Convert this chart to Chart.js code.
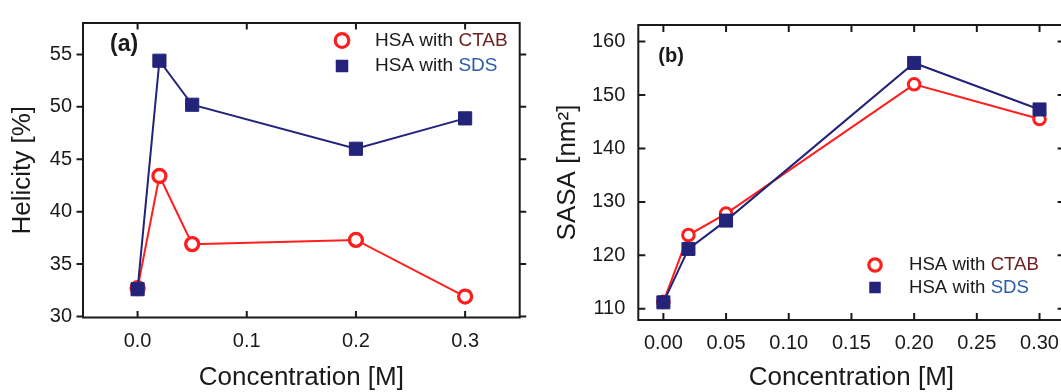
<!DOCTYPE html>
<html>
<head>
<meta charset="utf-8">
<script src="https://cdn.jsdelivr.net/npm/chart.js@4.4.1/dist/chart.umd.min.js"></script>
<style>
  html, body { margin: 0; padding: 0; background: #fff; overflow: hidden; }
  #wrap { position: relative; width: 1061px; height: 392px; overflow: hidden; }
  .panel { position: absolute; top: 0; }
  #panel-a { left: 0; }
  #panel-b { left: 530px; }
</style>
</head>
<body>
<div id="wrap">
  <div class="panel" id="panel-a"><canvas id="grafica-helicidad" width="530" height="392"></canvas></div>
  <div class="panel" id="panel-b"><canvas id="grafica-sasa" width="545" height="392"></canvas></div>
</div>
<script>
// datos
const concentraciones = [0, 0.02, 0.05, 0.2, 0.3];
const surfactantes = ['CTAB', 'SDS'];
const helicidadCTAB = [32.7, 43.4, 36.9, 37.3, 31.9];
const helicidadSDS = [32.6, 54.4, 50.2, 46.0, 48.9];
const sasaCTAB = [111.3, 123.8, 127.8, 152.0, 145.5];
const sasaSDS = [111.2, 121.2, 126.5, 156.0, 147.3];

// marcas de los ejes
const ticksXA = [0, 0.1, 0.2, 0.3];
const ticksYA = [30, 35, 40, 45, 50, 55];
const ticksXB = [0, 0.05, 0.1, 0.15, 0.2, 0.25, 0.3];
const ticksYB = [110, 120, 130, 140, 150, 160];

const ROJO = '#ff1e1e';
const AZUL = '#23237a';
const TEXTO = '#1a1a1a';
const colorPalabra = { CTAB: '#6e1e1e', SDS: '#2b5ca8' };

Chart.defaults.font.family = '"Liberation Sans", Arial, sans-serif';
Chart.defaults.color = TEXTO;

function puntos(valores) {
  return concentraciones.map((c, i) => ({ x: c, y: valores[i] }));
}

function datasets(ctab, sds, m) {
  return [
    {
      label: 'HSA with ' + surfactantes[0],
      data: puntos(ctab),
      borderColor: ROJO,
      borderWidth: 2,
      pointStyle: 'circle',
      pointRadius: m.circulo,
      pointBorderWidth: m.anillo,
      pointBackgroundColor: '#fff',
      pointBorderColor: ROJO,
      order: 1
    },
    {
      label: 'HSA with ' + surfactantes[1],
      data: puntos(sds),
      borderColor: AZUL,
      borderWidth: 2,
      pointStyle: 'rect',
      pointRadius: m.cuadro,
      pointBorderWidth: 1,
      pointBackgroundColor: AZUL,
      pointBorderColor: AZUL,
      order: 0
    }
  ];
}

// marco con las marcas de los ejes en los cuatro lados
const marco = {
  id: 'marco',
  afterDatasetsDraw(chart, args, opts) {
    const { ctx, chartArea: a, scales } = chart;
    const L = opts.len;
    const dy = opts.yFuera ? -1 : 1;
    ctx.save();
    ctx.strokeStyle = TEXTO;
    ctx.lineWidth = 2;
    ctx.beginPath();
    scales.x.ticks.forEach(t => {
      const px = scales.x.getPixelForValue(t.value);
      ctx.moveTo(px, a.bottom); ctx.lineTo(px, a.bottom - L);
      ctx.moveTo(px, a.top); ctx.lineTo(px, a.top + L);
    });
    scales.y.ticks.forEach(t => {
      const py = scales.y.getPixelForValue(t.value);
      ctx.moveTo(a.left, py); ctx.lineTo(a.left + dy * L, py);
      ctx.moveTo(a.right, py); ctx.lineTo(a.right - dy * L, py);
    });
    ctx.stroke();
    ctx.strokeRect(a.left, a.top, a.right - a.left, a.bottom - a.top);
    ctx.restore();
  }
};

// leyenda propia con la palabra del surfactante en color y la etiqueta del panel
const leyenda = {
  id: 'leyenda',
  afterDraw(chart, args, opts) {
    const { ctx } = chart;
    ctx.save();
    ctx.textBaseline = 'middle';
    ctx.textAlign = 'left';
    chart.data.datasets.forEach((ds, i) => {
      const y = opts.y + i * opts.gap;
      if (ds.pointStyle === 'circle') {
        ctx.beginPath();
        ctx.arc(opts.x, y, opts.r, 0, Math.PI * 2);
        ctx.fillStyle = '#fff';
        ctx.fill();
        ctx.lineWidth = 3.2;
        ctx.strokeStyle = ds.pointBorderColor;
        ctx.stroke();
      } else {
        const h = opts.lado / 2;
        ctx.fillStyle = ds.pointBackgroundColor;
        ctx.fillRect(opts.x - h, y - h, opts.lado, opts.lado);
      }
      const palabra = surfactantes[i];
      const prefijo = ds.label.slice(0, ds.label.length - palabra.length);
      ctx.font = opts.size + 'px "Liberation Sans", Arial, sans-serif';
      ctx.fillStyle = TEXTO;
      ctx.fillText(prefijo, opts.textX, y);
      const w = ctx.measureText(prefijo).width;
      ctx.fillStyle = colorPalabra[palabra];
      ctx.fillText(palabra, opts.textX + w, y);
    });
    ctx.font = 'bold ' + opts.tagSize + 'px "Liberation Sans", Arial, sans-serif';
    ctx.fillStyle = TEXTO;
    ctx.fillText(opts.tag, opts.tagX, opts.tagY);
    ctx.restore();
  }
};

function ejes(cfg) {
  return {
    x: {
      type: 'linear',
      min: cfg.xMin,
      max: cfg.xMax,
      afterBuildTicks: s => { s.ticks = cfg.xTicks.map(v => ({ value: v })); },
      afterFit: s => { s.height = cfg.xAlto; },
      grid: { display: false, drawTicks: false },
      border: { display: false },
      ticks: {
        autoSkip: false,
        maxRotation: 0,
        padding: cfg.xPad,
        font: { size: 20 },
        callback: v => v.toFixed(cfg.xDec)
      },
      title: {
        display: true,
        text: 'Concentration [M]',
        font: { size: 26, lineHeight: 1 },
        padding: { top: 0, bottom: 1 }
      }
    },
    y: {
      type: 'linear',
      min: cfg.yMin,
      max: cfg.yMax,
      afterBuildTicks: s => { s.ticks = cfg.yTicks.map(v => ({ value: v })); },
      afterFit: s => { s.width = cfg.yAncho; },
      grid: { display: false, drawTicks: false },
      border: { display: false },
      ticks: {
        autoSkip: false,
        padding: cfg.yPad,
        font: { size: 20 },
        callback: v => String(v)
      },
      title: {
        display: true,
        text: cfg.yTitulo,
        font: { size: 26, lineHeight: 1 },
        padding: { top: cfg.yTituloPad, bottom: 0 }
      }
    }
  };
}

function opcionesBase(padding, scales, marcoOpts, leyendaOpts) {
  return {
    responsive: false,
    animation: false,
    layout: { padding: padding },
    scales: scales,
    plugins: {
      legend: { display: false },
      tooltip: { enabled: false },
      marco: marcoOpts,
      leyenda: leyendaOpts
    }
  };
}

new Chart(document.getElementById('grafica-helicidad').getContext('2d'), {
  type: 'line',
  data: { datasets: datasets(helicidadCTAB, helicidadSDS, { circulo: 6.5, anillo: 3.3, cuadro: 9.3 }) },
  options: opcionesBase(
    { top: 14, right: 10, left: 0, bottom: 0 },
    ejes({
      xMin: -0.05, xMax: 0.35, xTicks: ticksXA, xAlto: 74.5, xPad: 12, xDec: 1,
      yMin: 29.9, yMax: 58, yTicks: ticksYA, yAncho: 83, yPad: 11,
      yTitulo: 'Helicity [%]', yTituloPad: 9.6
    }),
    { len: 6.5, yFuera: true },
    { x: 342, y: 40.5, gap: 25.5, r: 6.8, lado: 12.5, textX: 375, size: 19, tag: '(a)', tagX: 110, tagY: 45, tagSize: 23 }
  ),
  plugins: [marco, leyenda]
});

new Chart(document.getElementById('grafica-sasa').getContext('2d'), {
  type: 'line',
  data: { datasets: datasets(sasaCTAB, sasaSDS, { circulo: 5.8, anillo: 3, cuadro: 9.2 }) },
  options: opcionesBase(
    { top: 24, right: 10.4, left: 0, bottom: 0 },
    ejes({
      xMin: -0.02, xMax: 0.32, xTicks: ticksXB, xAlto: 72, xPad: 11, xDec: 2,
      yMin: 107.9, yMax: 163.1, yTicks: ticksYB, yAncho: 108.3, yPad: 13,
      yTitulo: 'SASA [nm²]', yTituloPad: 25.3
    }),
    { len: 7, yFuera: false },
    { x: 345, y: 265, gap: 22.5, r: 6.2, lado: 11.5, textX: 379, size: 18.6, tag: '(b)', tagX: 128.3, tagY: 56, tagSize: 20 }
  ),
  plugins: [marco, leyenda]
});
</script>
</body>
</html>
